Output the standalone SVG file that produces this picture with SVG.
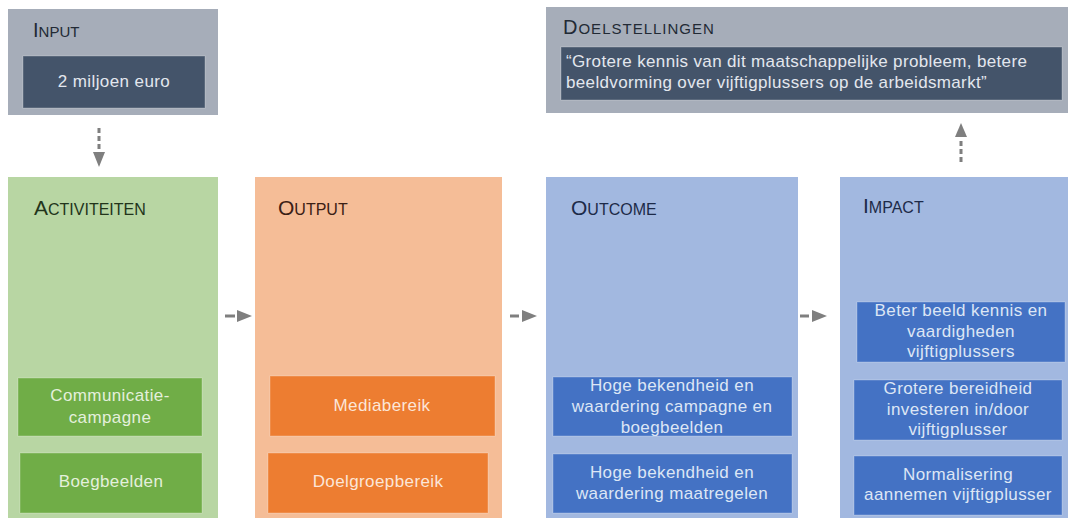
<svg xmlns="http://www.w3.org/2000/svg" width="1074" height="520" viewBox="0 0 1074 520">
<style>
text{font-family:"Liberation Sans",Arial,sans-serif}
.t{font-size:16px}
.t .b{font-size:21px}
.ts{font-size:15px}
.ts .b{font-size:20px}
.in{font-size:17px;text-anchor:middle;letter-spacing:0.4px}
.q{font-size:17px;letter-spacing:0.35px}
.ib{stroke:#ffffff;stroke-opacity:0.25;stroke-width:1}
.arr{fill:#7f7f7f}
</style>
<rect width="1074" height="520" fill="#ffffff"/>
<g id="input">
<rect x="8" y="9" width="210" height="106" fill="#a6adb9"/>
<text x="33" y="37" class="ts" fill="#222a35"><tspan class="b">I</tspan>NPUT</text>
<rect x="23" y="56" width="182" height="52" fill="#44546a" class="ib"/>
<text x="114" y="87" class="in" fill="#e3e7ee">2 miljoen euro</text>
</g>
<g id="doelstellingen">
<rect x="546" y="7" width="522" height="106" fill="#a6adb9"/>
<text x="563" y="34" class="ts" fill="#222a35" letter-spacing="1"><tspan class="b">D</tspan>OELSTELLINGEN</text>
<rect x="561" y="47" width="501" height="53" fill="#44546a" class="ib"/>
<text x="566" y="67" class="q" fill="#e3e7ee">“Grotere kennis van dit maatschappelijke probleem, betere</text>
<text x="566" y="88" class="q" fill="#e3e7ee">beeldvorming over vijftigplussers op de arbeidsmarkt”</text>
</g>
<g id="activiteiten">
<rect x="8" y="177" width="210" height="341" fill="#b8d6a3"/>
<text x="34" y="215" class="t" fill="#22351b"><tspan class="b">A</tspan>CTIVITEITEN</text>
<rect x="18" y="378" width="184" height="58" fill="#70ad47" class="ib"/>
<text x="110" y="401" class="in" fill="#e4f0dc">Communicatie-</text>
<text x="110" y="423" class="in" fill="#e4f0dc">campagne</text>
<rect x="20" y="453" width="182" height="60" fill="#70ad47" class="ib"/>
<text x="111" y="487" class="in" fill="#e4f0dc">Boegbeelden</text>
</g>
<g id="output">
<rect x="255" y="177" width="247" height="341" fill="#f5bd97"/>
<text x="278" y="215" class="t" fill="#3b2015"><tspan class="b">O</tspan>UTPUT</text>
<rect x="270" y="376" width="225" height="60" fill="#ed7d31" class="ib"/>
<text x="382" y="411" class="in" fill="#fce6d8">Mediabereik</text>
<rect x="268" y="453" width="220" height="60" fill="#ed7d31" class="ib"/>
<text x="378" y="487" class="in" fill="#fce6d8">Doelgroepbereik</text>
</g>
<g id="outcome">
<rect x="546" y="177" width="252" height="341" fill="#a2b8e0"/>
<text x="571" y="215" class="t" fill="#1d2a48"><tspan class="b">O</tspan>UTCOME</text>
<rect x="553" y="377" width="239" height="59" fill="#4472c4" class="ib"/>
<text x="672" y="391" class="in" fill="#dde6f5">Hoge bekendheid en</text>
<text x="672" y="412" class="in" fill="#dde6f5">waardering campagne en</text>
<text x="672" y="433" class="in" fill="#dde6f5">boegbeelden</text>
<rect x="553" y="454" width="239" height="59" fill="#4472c4" class="ib"/>
<text x="672" y="478" class="in" fill="#dde6f5">Hoge bekendheid en</text>
<text x="672" y="499" class="in" fill="#dde6f5">waardering maatregelen</text>
</g>
<g id="impact">
<rect x="840" y="177" width="228" height="341" fill="#a2b8e0"/>
<text x="863" y="213" class="t" fill="#1d2a48"><tspan class="b">I</tspan>MPACT</text>
<rect x="857" y="302" width="208" height="60" fill="#4472c4" class="ib"/>
<text x="961" y="316" class="in" fill="#dde6f5">Beter beeld kennis en</text>
<text x="961" y="337" class="in" fill="#dde6f5">vaardigheden</text>
<text x="961" y="357" class="in" fill="#dde6f5">vijftigplussers</text>
<rect x="854" y="380" width="208" height="60" fill="#4472c4" class="ib"/>
<text x="958" y="394" class="in" fill="#dde6f5">Grotere bereidheid</text>
<text x="958" y="415" class="in" fill="#dde6f5">investeren in/door</text>
<text x="958" y="435" class="in" fill="#dde6f5">vijftigplusser</text>
<rect x="854" y="456" width="208" height="59" fill="#4472c4" class="ib"/>
<text x="958" y="480" class="in" fill="#dde6f5">Normalisering</text>
<text x="958" y="500" class="in" fill="#dde6f5">aannemen vijftigplusser</text>
</g>
<g id="connectors">
<line x1="99" y1="128" x2="99" y2="152" stroke="#7f7f7f" stroke-width="3" stroke-dasharray="5,3"/>
<polygon class="arr" points="93,152 105,152 99,167"/>
<line x1="961" y1="162" x2="961" y2="138" stroke="#7f7f7f" stroke-width="3" stroke-dasharray="5,3"/>
<polygon class="arr" points="955,137 967,137 961,123"/>
<line x1="225" y1="316" x2="235" y2="316" stroke="#7f7f7f" stroke-width="3"/>
<polygon class="arr" points="237,310 237,322 252,316"/>
<line x1="510" y1="316" x2="519" y2="316" stroke="#7f7f7f" stroke-width="3"/>
<polygon class="arr" points="522,310 522,322 537,316"/>
<line x1="800" y1="316" x2="809" y2="316" stroke="#7f7f7f" stroke-width="3"/>
<polygon class="arr" points="812,310 812,322 827,316"/>
</g>
</svg>
